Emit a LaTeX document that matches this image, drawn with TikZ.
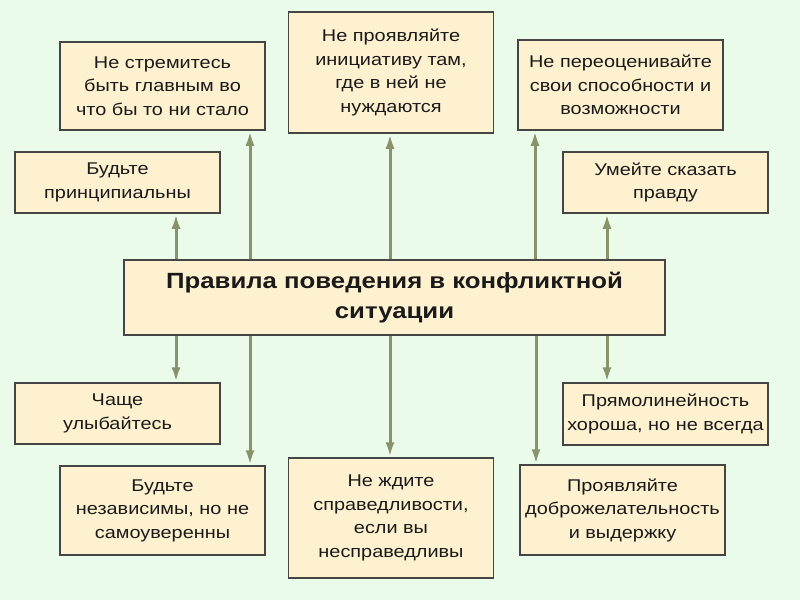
\documentclass[tikz,border=0pt]{standalone}
\usepackage{fontspec}
\setmainfont[FakeStretch=1.17]{Liberation Sans}
\usetikzlibrary{arrows.meta}
\definecolor{bg}{HTML}{EBFBE9}
\definecolor{boxfill}{HTML}{FDF1CF}
\definecolor{boxline}{HTML}{454545}
\definecolor{arr}{HTML}{8A926C}
\definecolor{txt}{HTML}{1A1A1A}
\begin{document}
\begin{tikzpicture}[x=1pt,y=-1pt,
  rulebox/.style={draw=boxline,fill=boxfill,line width=1.5pt,minimum width=205pt,
    inner sep=0pt,align=center,text=txt,font=\fontsize{17}{23.5}\selectfont},
  mainbox/.style={draw=boxline,fill=boxfill,line width=1.6pt,minimum width=541pt,minimum height=75pt,
    inner sep=0pt,align=center,text=txt,font=\fontsize{22}{30}\selectfont\bfseries},
  link/.style={draw=arr,line width=3pt,-{Latex[length=15pt,width=9pt]}}]
\fill[bg] (0,0) rectangle (800,600);
\useasboundingbox (0,0) rectangle (800,600);

\node[mainbox] (c) at (394.5,297.5) {Правила поведения в конфликтной\\ситуации};

\node[rulebox,minimum height=88pt] (a1) at (162.5,86) {Не стремитесь\\быть главным во\\что бы то ни стало};
\node[rulebox,minimum height=121pt] (a2) at (391,72.5) {Не проявляйте\\инициативу там,\\где в ней не\\нуждаются};
\node[rulebox,minimum height=90pt] (a3) at (620.5,85) {Не переоценивайте\\свои способности и\\возможности};
\node[rulebox,minimum height=61pt] (a4) at (117.5,182.5) {Будьте\\принципиальны};
\node[rulebox,minimum height=61pt] (a5) at (665.5,182.5) {Умейте сказать\\правду};

\node[rulebox,minimum height=61pt] (b1) at (117.5,413.5) {Чаще\\улыбайтесь};
\node[rulebox,minimum height=89pt] (b2) at (162.5,510.5) {Будьте\\независимы, но не\\самоуверенны};
\node[rulebox,minimum height=120pt] (b3) at (391,518) {Не ждите\\справедливости,\\если вы\\несправедливы};
\node[rulebox,minimum height=62pt] (b4) at (665.5,414) {Прямолинейность\\хороша, но не всегда};
\node[rulebox,minimum height=90pt] (b5) at (622.5,510) {Проявляйте\\доброжелательность\\и выдержку};

% upward arrows
\draw[link] (c.north -| 176,0) -- (a4.south -| 176,0);
\draw[link] (c.north -| 250,0) -- (a1.south -| 250,0);
\draw[link] (c.north -| 390,0) -- (a2.south -| 390,0);
\draw[link] (c.north -| 535,0) -- (a3.south -| 535,0);
\draw[link] (c.north -| 607,0) -- (a5.south -| 607,0);
% downward arrows
\draw[link] (c.south -| 176,0) -- (b1.north -| 176,0);
\draw[link] (c.south -| 250,0) -- (b2.north -| 250,0);
\draw[link] (c.south -| 390,0) -- (b3.north -| 390,0);
\draw[link] (c.south -| 536,0) -- (b5.north -| 536,0);
\draw[link] (c.south -| 607,0) -- (b4.north -| 607,0);
\end{tikzpicture}
\end{document}
